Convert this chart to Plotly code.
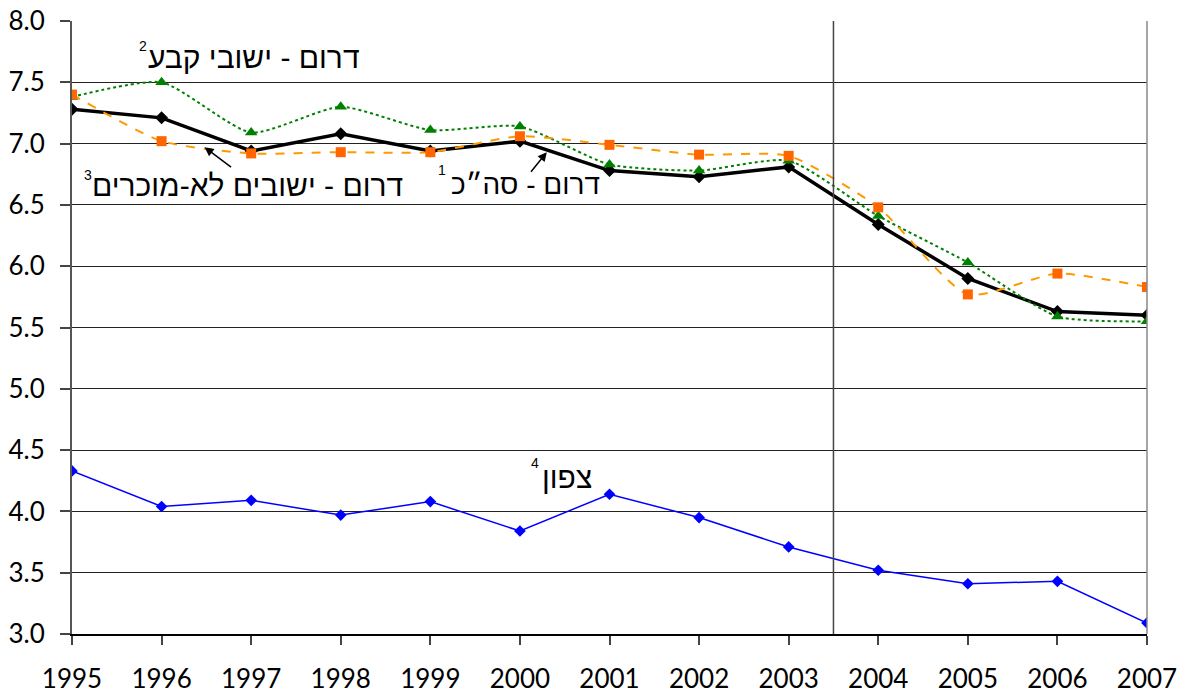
import plotly.graph_objects as go

years = [1995, 1996, 1997, 1998, 1999, 2000, 2001, 2002, 2003, 2004, 2005, 2006, 2007]

south_total = [7.28, 7.21, 6.94, 7.08, 6.94, 7.02, 6.78, 6.73, 6.81, 6.34, 5.90, 5.63, 5.60]
south_unrecognized = [7.40, 7.02, 6.92, 6.93, 6.93, 7.06, 6.99, 6.91, 6.90, 6.48, 5.77, 5.94, 5.83]
south_permanent = [7.38, 7.50, 7.09, 7.30, 7.11, 7.14, 6.83, 6.78, 6.86, 6.41, 6.03, 5.59, 5.55]
north = [4.33, 4.04, 4.09, 3.97, 4.08, 3.84, 4.14, 3.95, 3.71, 3.52, 3.41, 3.43, 3.09]

y_ticks = [3.0, 3.5, 4.0, 4.5, 5.0, 5.5, 6.0, 6.5, 7.0, 7.5, 8.0]

heb_font = "Liberation Sans, DejaVu Sans, sans-serif"
tick_font = "Lato, Liberation Sans, sans-serif"

fig = go.Figure()

fig.add_trace(go.Scatter(x=years, y=north, mode="lines+markers",
                         line=dict(color="#0000FF", width=1.5),
                         marker=dict(symbol="diamond", size=9, color="#0000FF")))

fig.add_trace(go.Scatter(x=years, y=south_total, mode="lines+markers",
                         line=dict(color="black", width=3.5),
                         marker=dict(symbol="diamond", size=10, color="black")))

fig.add_trace(go.Scatter(x=years, y=south_permanent, mode="lines+markers",
                         line=dict(color="#008000", width=2, dash="dot", shape="spline", smoothing=0.6),
                         marker=dict(symbol="triangle-up", size=11, color="#008000")))

fig.add_trace(go.Scatter(x=years, y=south_unrecognized, mode="lines+markers",
                         line=dict(color="#FF9900", width=2, dash="dash", shape="spline", smoothing=0.6),
                         marker=dict(symbol="square", size=10, color="#FF6600")))

# vertical separator between 2003 and 2004
fig.add_shape(type="line", xref="x", yref="paper", x0=2003.5, x1=2003.5, y0=0, y1=1,
              line=dict(color="#444444", width=1.5))

# right border of plot area
fig.add_shape(type="line", xref="paper", yref="paper", x0=1, x1=1, y0=0, y1=1,
              line=dict(color="#888888", width=1.5))

labels = [
    dict(x=1998.24, y=7.70, text="דרום - ישובי קבע", size=30),
    dict(x=1995.86, y=7.80, text="2", size=14),
    dict(x=1998.72, y=6.655, text="דרום - ישובים לא-מוכרים", size=30),
    dict(x=1995.24, y=6.745, text="3", size=14),
    dict(x=2000.915, y=6.67, text="דרום - סה״כ", size=28),
    dict(x=1999.20, y=6.785, text="1", size=14),
    dict(x=2000.83, y=4.273, text="צפון", size=30),
    dict(x=2000.24, y=4.395, text="4", size=14),
]
for lab in labels:
    fig.add_annotation(x=lab["x"], y=lab["y"], text=lab["text"], showarrow=False,
                       xanchor="right", yanchor="middle",
                       font=dict(family=heb_font, size=lab["size"], color="black"))

# arrows to the black line
fig.add_annotation(x=1996.48, y=6.97, text="", showarrow=True, arrowhead=2, arrowsize=1.2,
                   arrowwidth=1.5, arrowcolor="black", ax=28, ay=21)
fig.add_annotation(x=2000.30, y=6.93, text="", showarrow=True, arrowhead=2, arrowsize=1.2,
                   arrowwidth=1.5, arrowcolor="black", ax=-17, ay=21)

fig.update_xaxes(range=[1995, 2007], tickvals=years, ticktext=[str(y) for y in years],
                 showgrid=False, zeroline=False, showline=True, linecolor="black", linewidth=1.5,
                 ticks="outside", ticklen=9, tickcolor="#444444", tickwidth=1.5,
                 ticklabelstandoff=12, automargin=False, ticklabeloverflow="allow",
                 tickfont=dict(family=tick_font, size=26, color="black"))

fig.update_yaxes(range=[3.0, 8.0], tickvals=y_ticks, ticktext=[f"{v:.1f}" for v in y_ticks],
                 showgrid=True, gridcolor="#222222", gridwidth=1, zeroline=False,
                 showline=True, linecolor="#555555", linewidth=2,
                 ticks="outside", ticklen=10, tickcolor="#444444", tickwidth=1.5,
                 ticklabelstandoff=10, automargin=False, ticklabeloverflow="allow",
                 tickfont=dict(family=tick_font, size=26, color="black"))

# page body adds an 8px margin, so the figure is offset by 8px in the window
fig.update_layout(width=1179, height=687, showlegend=False,
                  margin=dict(l=64, r=40, t=13, b=61),
                  plot_bgcolor="white", paper_bgcolor="white")

fig.write_html("out.html")
